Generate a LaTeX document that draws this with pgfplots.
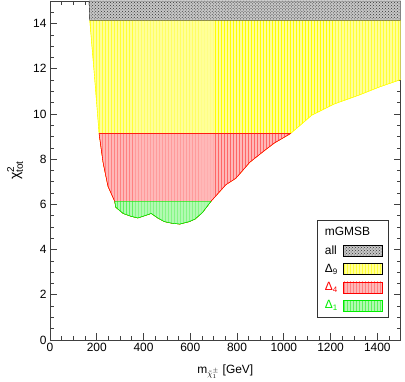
\documentclass[border=0pt]{standalone}
\usepackage{fontspec}
\setmainfont{Liberation Sans}
\usepackage{pgfplots}
\pgfplotsset{compat=1.18}
\usetikzlibrary{patterns,calc}
\definecolor{cy}{rgb}{1,1,0}
\definecolor{cr}{rgb}{1,0,0}
\definecolor{cg}{rgb}{0,0.93,0}
\begin{document}
\begin{tikzpicture}
\begin{axis}[
 scale only axis, width=350.7bp, height=339bp,
 xmin=0, xmax=1500, ymin=0, ymax=15,
 xtick distance=200, ytick distance=2, minor x tick num=3, minor y tick num=3,
 tick align=inside, xtick pos=both, ytick pos=both,
 major tick length=7bp, minor tick length=4bp,
 axis line style={black!75, line width=0.8pt}, tick style={black!75, line width=0.7pt},
 font=\fontsize{12}{14.4}\selectfont,
 /pgf/number format/assume math mode=true,
 /pgf/number format/set thousands separator={},
 no markers,
 xlabel={m$_{\tilde{\chi}^{\pm}_{1}}$ [GeV]},
 ylabel={\fontsize{14}{16}\selectfont χ$^{\mbox{\fontsize{10}{10}\selectfont 2}}_{\mbox{\fontsize{10}{10}\selectfont tot}}$},
 every axis x label/.style={at={(rel axis cs:0.5,0)}, yshift=-33bp, anchor=base},
 every axis y label/.style={at={(rel axis cs:0,0.5)}, xshift=-35bp, rotate=90, anchor=center},
 legend style={at={(rel axis cs:0.965,0.066)}, anchor=south east, draw=black!80, fill=white,
   inner xsep=6bp, inner ysep=5bp, row sep=4.5bp, column sep=3bp,
   font=\fontsize{12}{14.4}\selectfont},
 legend cell align=left, legend plot pos=right,
 legend image code/.code={\draw[#1] (0bp,-5.5bp) rectangle (39bp,5.5bp);},
]
\coordinate (sw) at (rel axis cs:0,0);
\coordinate (ne) at (rel axis cs:1,1);
% Delta_9 region
\addplot[forget plot, draw=cy, fill=cy!40, postaction={pattern=vertical lines, pattern color=cy}] coordinates {
(170,14.15) (190,11.7) (210,9.13) (227,7.85) (248,6.8) (277,6.13) (281,5.88) (313,5.6) (345,5.48)
(376,5.4) (405,5.5) (433,5.6) (461,5.4) (489,5.24) (520,5.17) (555,5.13) (596,5.24) (620,5.35)
(652,5.64) (688,6.13) (720,6.5) (752,6.87) (794,7.15) (808,7.31) (855,7.87) (922,8.42) (960,8.72)
(1028,9.13) (1070,9.5) (1120,9.95) (1215,10.44) (1320,10.83) (1410,11.2) (1500,11.52) (1500,14.15)
} --cycle;
% Delta_4 region
\addplot[forget plot, draw=cr, fill=cr!28, postaction={pattern=vertical lines, pattern color=cr!60}] coordinates {
(210,9.13) (227,7.85) (248,6.8) (277,6.13) (281,5.88) (313,5.6) (345,5.48)
(376,5.4) (405,5.5) (433,5.6) (461,5.4) (489,5.24) (520,5.17) (555,5.13) (596,5.24) (620,5.35)
(652,5.64) (688,6.13) (720,6.5) (752,6.87) (794,7.15) (808,7.31) (855,7.87) (922,8.42) (960,8.72)
(1028,9.13)
} --cycle;
% Delta_1 region
\addplot[forget plot, draw=cg, fill=cg!30, postaction={pattern=vertical lines, pattern color=cg!80}] coordinates {
(277,6.13) (281,5.88) (313,5.6) (345,5.48) (376,5.4) (405,5.5) (433,5.6) (461,5.4) (489,5.24)
(520,5.17) (555,5.13) (596,5.24) (620,5.35) (652,5.64) (688,6.13)
} --cycle;
% all
\addplot[forget plot, draw=black!70, fill=black!22, postaction={pattern=crosshatch dots, pattern color=black!80}] coordinates {
(167,15) (170,14.15) (1500,14.15) (1500,15)
} --cycle;
\addlegendimage{empty legend}
\addlegendentry{\makebox[0pt][l]{mGMSB}}
\addlegendimage{draw=black, fill=black!22, postaction={pattern=crosshatch dots, pattern color=black!80}}
\addlegendentry{all}
\addlegendimage{draw=black, fill=cy!40, postaction={pattern=vertical lines, pattern color=cy}}
\addlegendentry{Δ\textsubscript{9}}
\addlegendimage{draw=cr, fill=cr!28, postaction={pattern=vertical lines, pattern color=cr!60}}
\addlegendentry{\textcolor{cr}{Δ\textsubscript{4}}}
\addlegendimage{draw=cg, fill=cg!30, postaction={pattern=vertical lines, pattern color=cg!80}}
\addlegendentry{\textcolor{cg}{Δ\textsubscript{1}}}
\end{axis}
\pgfresetboundingbox
\path[use as bounding box] ($(sw)+(-50bp,-42bp)$) rectangle ($(ne)+(4.3bp,1bp)$);
\end{tikzpicture}
\end{document}
